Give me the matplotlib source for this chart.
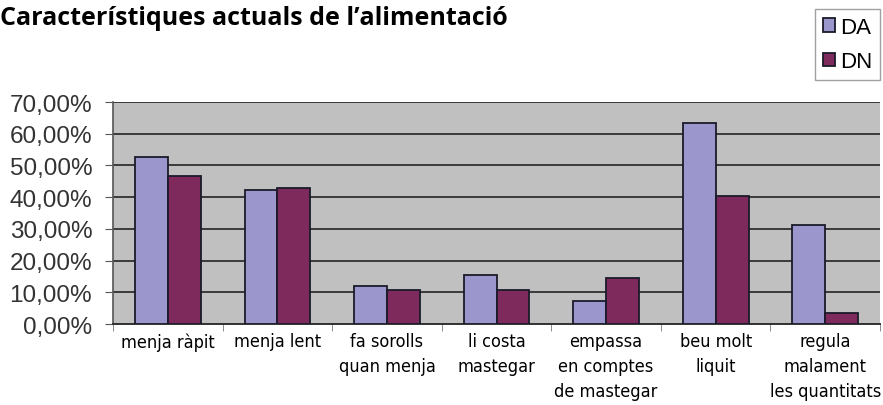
import matplotlib.pyplot as plt
import numpy as np
from matplotlib import font_manager
from matplotlib.ticker import FuncFormatter, MultipleLocator

categories = [
    "menja ràpit",
    "menja lent",
    "fa sorolls\nquan menja",
    "li costa\nmastegar",
    "empassa\nen comptes\nde mastegar",
    "beu molt\nliquit",
    "regula\nmalament\nles quantitats",
]
da_values = [52.6, 42.3, 12.1, 15.6, 7.4, 63.4, 31.3]
dn_values = [46.6, 43.0, 10.8, 10.8, 14.4, 40.5, 3.5]
series_names = ["DA", "DN"]
title = "Característiques actuals de l’alimentació"


def pick_font(names):
    installed = {f.name for f in font_manager.fontManager.ttflist}
    for name in names:
        if name in installed:
            return name
    return None


def main() -> None:
    narrow = pick_font(["Liberation Sans Narrow"])
    sans = pick_font(["Liberation Sans"]) or "DejaVu Sans"
    bold = pick_font(["Open Sans", "Noto Sans"]) or "DejaVu Sans"

    if narrow:
        xfont = {"family": narrow, "size": 15}
    else:
        xfont = {"family": "DejaVu Sans", "stretch": "condensed", "size": 13}

    fig = plt.figure(figsize=(8.83, 4.06), dpi=100)
    ax = fig.add_axes([0.128, 0.1995, 0.8686, 0.5468])

    x = np.arange(len(categories))
    w = 0.3
    ax.bar(x - w / 2, da_values, w, color="#9b97cc", edgecolor="#1a1a2a",
           linewidth=1.3, label=series_names[0], zorder=3)
    ax.bar(x + w / 2, dn_values, w, color="#7e2a5c", edgecolor="#1a1a2a",
           linewidth=1.3, label=series_names[1], zorder=3)

    ax.set_facecolor("#c0c0c0")
    ax.set_xlim(-0.5, len(categories) - 0.5)
    ax.set_ylim(0, 70)
    ax.yaxis.set_major_locator(MultipleLocator(10))
    ax.yaxis.set_major_formatter(
        FuncFormatter(lambda v, _: f"{v:.2f}%".replace(".", ","))
    )
    ax.grid(axis="y", color="#3a3a3a", linewidth=1.4, zorder=1)
    ax.set_axisbelow(True)

    for side in ["top", "right"]:
        ax.spines[side].set_visible(False)
    ax.spines["left"].set_color("#555555")
    ax.spines["left"].set_linewidth(1.2)
    ax.spines["bottom"].set_color("#333333")
    ax.spines["bottom"].set_linewidth(1.4)

    ax.set_xticks(x)
    ax.set_xticklabels(categories, fontdict=xfont, linespacing=1.5)
    ax.set_xticks(np.arange(len(categories) + 1) - 0.5, minor=True)
    ax.tick_params(axis="x", which="major", length=0, pad=6)
    ax.tick_params(axis="x", which="minor", length=5, color="#777777")
    ax.tick_params(axis="y", length=6, color="#555555", labelsize=17.5,
                   labelcolor="#333333", pad=9)
    for lab in ax.get_yticklabels():
        lab.set_family(sans)

    fig.text(0.0, 0.938, title, fontsize=18, fontweight="bold", family=bold,
             va="baseline", ha="left")

    leg = fig.legend(loc="upper right", bbox_to_anchor=(0.997, 0.975),
                     prop={"family": sans, "size": 16}, frameon=True,
                     fancybox=False, handlelength=0.55, handleheight=0.55,
                     handletextpad=0.25, borderpad=0.35, labelspacing=0.6,
                     borderaxespad=0)
    leg.get_frame().set_edgecolor("#888888")
    leg.get_frame().set_linewidth(1.0)

    fig.savefig("out.png", dpi=100)


if __name__ == "__main__":
    main()
